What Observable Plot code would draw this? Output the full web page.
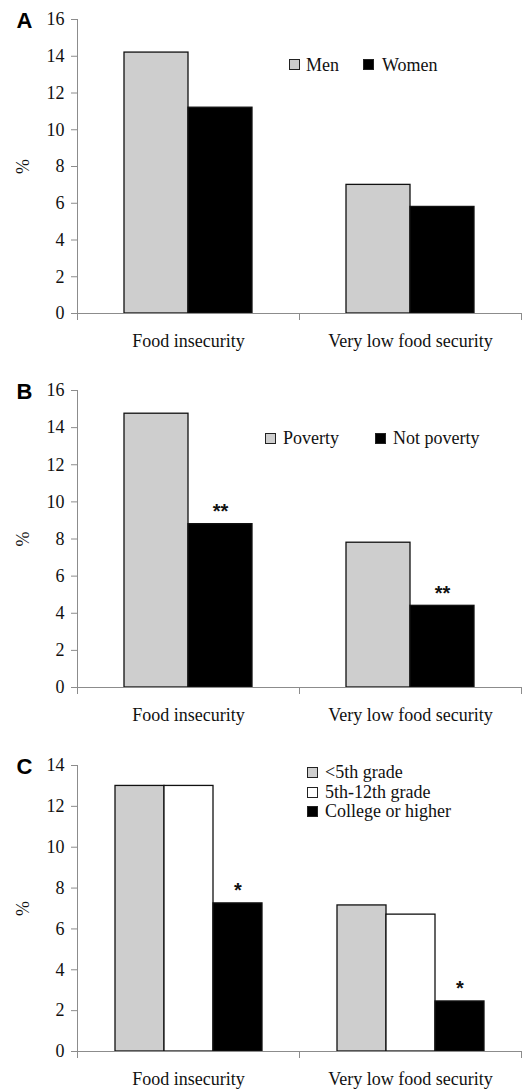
<!DOCTYPE html>
<html><head><meta charset="utf-8">
<script src="https://cdn.jsdelivr.net/npm/d3@7"></script>
<script src="https://cdn.jsdelivr.net/npm/@observablehq/plot@0.6"></script>
<style>
body{margin:0;background:#fff;}
#root{position:relative;width:522px;height:1089px;overflow:hidden;}
.panel{position:relative;width:522px;}
.panel svg{display:block;}
.leg{position:absolute;font-family:"Liberation Serif","Times New Roman",Tinos,"DejaVu Serif",serif;font-size:18px;line-height:18px;color:#111;white-space:nowrap;}
.sw{position:absolute;width:9px;height:9px;border:1px solid #222;}
</style></head><body><div id="root"></div>
<script>
// ---- data ----
const categories = ["Food insecurity", "Very low food security"];
const tickLabels16 = [0, 2, 4, 6, 8, 10, 12, 14, 16];
const tickLabels14 = [0, 2, 4, 6, 8, 10, 12, 14];

const sexGroups = ["Men", "Women"];
const sexValues = [[14.2, 11.2], [7.0, 5.8]];
const sexSig = [["", ""], ["", ""]];

const povGroups = ["Poverty", "Not poverty"];
const povValues = [[14.75, 8.8], [7.8, 4.4]];
const povSig = [["", "**"], ["", "**"]];

const eduGroups = ["<5th grade", "5th-12th grade", "College or higher"];
const eduValues = [[13.0, 13.0, 7.25], [7.15, 6.7, 2.45]];
const eduSig = [["", "", "*"], ["", "", "*"]];

const GRAY = "#cecece", BLACK = "#000000", WHITE = "#ffffff";
const AXIS = "#8c8c8c";
const SERIF = "'Liberation Serif', 'Times New Roman', Tinos, 'DejaVu Serif', serif";

function panel(cfg) {
  const {letter, groups, values, sig, fills, yMax, ticks, height, marginTop, marginBottom, letterDy, legend} = cfg;
  const data = [];
  categories.forEach((c, i) => groups.forEach((g, j) => data.push({cat: c, group: g, value: values[i][j], sig: sig[i][j]})));
  const innerH = height - marginTop - marginBottom;
  const plot = Plot.plot({
    width: 522, height, marginTop, marginBottom, marginLeft: 76, marginRight: 1,
    style: {fontFamily: SERIF, fontSize: "18px", color: "#111", background: "transparent", overflow: "visible"},
    fx: {domain: categories, padding: 0, label: null},
    x: {domain: groups, paddingInner: 0, paddingOuter: 0.73, axis: null},
    y: {domain: [0, yMax], axis: null},
    color: {domain: groups, range: fills},
    marks: [
      Plot.barY(data, {fx: "cat", x: "group", y: "value", fill: "group", stroke: "#111", strokeWidth: 1.3}),
      Plot.ruleY([0], {stroke: AXIS, strokeWidth: 1}),
      Plot.frame({anchor: "left", facetAnchor: "left", insetBottom: -6, stroke: AXIS}),
      Plot.frame({anchor: "right", insetTop: innerH, insetBottom: -6, stroke: AXIS}),
      Plot.axisY({ticks, tickSize: 6, tickPadding: 7, stroke: AXIS, fill: "#111", fontSize: 18, fontFamily: SERIF,
        label: "%", labelAnchor: "center", labelOffset: 61, labelArrow: "none"}),
      Plot.axisFx({anchor: "bottom", tickSize: 0, tickPadding: 21, label: null, fontSize: 18, fontFamily: SERIF, fill: "#111"}),
      Plot.text(data.filter(d => d.sig), {fx: "cat", x: "group", y: "value", text: "sig", lineAnchor: "bottom", dy: -6,
        fontFamily: "'Liberation Sans', sans-serif", fontSize: 20, fontWeight: "bold", fill: "#111"}),
      Plot.text([letter], {frameAnchor: "top-left", facetAnchor: "left", textAnchor: "start", lineAnchor: "middle",
        dx: -61, dy: letterDy, fontFamily: "'Liberation Sans', sans-serif", fontSize: 22, fontWeight: "bold", fill: "#000"})
    ]
  });
  const wrap = document.createElement("div");
  wrap.className = "panel";
  wrap.style.height = height + "px";
  wrap.appendChild(plot);
  legend.forEach((it, k) => {
    const sw = document.createElement("div");
    sw.className = "sw";
    sw.style.left = it.sx + "px"; sw.style.top = it.sy + "px";
    sw.style.background = fills[k];
    wrap.appendChild(sw);
    const t = document.createElement("div");
    t.className = "leg";
    t.style.left = it.tx + "px"; t.style.top = (it.base - 15) + "px";
    t.textContent = groups[k];
    wrap.appendChild(t);
  });
  document.getElementById("root").appendChild(wrap);
}

panel({letter: "A", groups: sexGroups, values: sexValues, sig: sexSig, fills: [GRAY, BLACK],
  yMax: 16, ticks: tickLabels16, height: 360, marginTop: 19, marginBottom: 47, letterDy: 1.5,
  legend: [{sx: 289, sy: 59, tx: 306, base: 71}, {sx: 363, sy: 59, tx: 382, base: 71}]});
panel({letter: "B", groups: povGroups, values: povValues, sig: povSig, fills: [GRAY, BLACK],
  yMax: 16, ticks: tickLabels16, height: 365, marginTop: 30, marginBottom: 38, letterDy: 1.5,
  legend: [{sx: 265, sy: 73, tx: 283, base: 84}, {sx: 375, sy: 73, tx: 393, base: 84}]});
panel({letter: "C", groups: eduGroups, values: eduValues, sig: eduSig, fills: [GRAY, WHITE, BLACK],
  yMax: 14, ticks: tickLabels14, height: 364, marginTop: 40, marginBottom: 38, letterDy: 1,
  legend: [{sx: 307, sy: 42, tx: 325, base: 53}, {sx: 307, sy: 62, tx: 325, base: 73}, {sx: 307, sy: 81, tx: 325, base: 92}]});
</script>
</body></html>
